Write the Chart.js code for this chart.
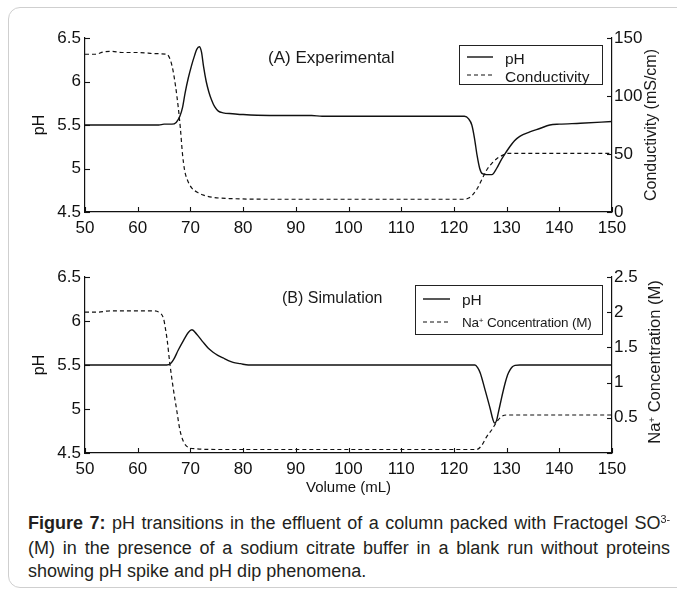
<!DOCTYPE html>
<html>
<head>
<meta charset="utf-8">
<script src="https://cdn.jsdelivr.net/npm/chart.js@4.4.1/dist/chart.umd.min.js"></script>
<style>
html,body{margin:0;padding:0;background:#fff;overflow:hidden;width:677px;height:590px;}
body{position:relative;font-family:"Liberation Sans",Arial,sans-serif;color:#1a1a1a;}
.frame{position:absolute;left:8px;top:7px;width:700px;height:581px;border:1.5px solid #cfcfcf;border-radius:12px;box-sizing:border-box;}
canvas{position:absolute;left:0;}
.t{position:absolute;white-space:nowrap;line-height:1;}
.rot{position:absolute;white-space:nowrap;line-height:1;transform:translate(-50%,-50%) rotate(-90deg);}
.legend{position:absolute;border:1.3px solid #222;box-sizing:border-box;background:#fff;}
.sw{position:absolute;overflow:visible;}
sup{font-size:0.6em;vertical-align:baseline;position:relative;top:-0.55em;}
.cap{position:absolute;left:28px;width:642px;font-size:18px;line-height:23px;color:#231f20;}
.cap div{text-align:justify;text-align-last:justify;white-space:nowrap;}
.cap div.last{text-align-last:left;}
</style>
</head>
<body>
<div class="frame"></div>

<canvas id="cA" width="677" height="240" style="top:0;width:677px;height:240px;"></canvas>
<canvas id="cB" width="677" height="262" style="top:240px;width:677px;height:262px;"></canvas>

<!-- panel annotations -->
<div class="t" style="left:268px;top:49px;font-size:17px;">(A) Experimental</div>
<div class="t" style="left:282px;top:290px;font-size:16px;">(B) Simulation</div>

<!-- legend A -->
<div class="legend" style="left:459px;top:45px;width:144px;height:40px;"></div>
<svg class="sw" style="left:467px;top:55px;" width="27" height="4"><line x1="0" y1="2" x2="26" y2="2" stroke="#111" stroke-width="1.4"/></svg>
<svg class="sw" style="left:467px;top:73px;" width="27" height="4"><line x1="0" y1="2" x2="26" y2="2" stroke="#111" stroke-width="1.2" stroke-dasharray="4 3"/></svg>
<div class="t" style="left:505px;top:51px;font-size:15.5px;">pH</div>
<div class="t" style="left:505px;top:69px;font-size:15.5px;">Conductivity</div>

<!-- legend B -->
<div class="legend" style="left:415px;top:285px;width:188px;height:50px;"></div>
<svg class="sw" style="left:423px;top:297px;" width="28" height="4"><line x1="0" y1="2" x2="27" y2="2" stroke="#111" stroke-width="1.4"/></svg>
<svg class="sw" style="left:423px;top:320px;" width="28" height="4"><line x1="0" y1="2" x2="27" y2="2" stroke="#111" stroke-width="1.2" stroke-dasharray="4 3"/></svg>
<div class="t" style="left:462px;top:292px;font-size:15.5px;">pH</div>
<div class="t" style="left:462px;top:316px;font-size:13.5px;letter-spacing:-0.2px;">Na<sup>+</sup> Concentration (M)</div>

<!-- right axis titles -->
<div class="rot" style="left:651px;top:125px;font-size:16px;">Conductivity (mS/cm)</div>
<div class="rot" style="left:654px;top:362px;font-size:16.5px;">Na<sup>+</sup> Concentration (M)</div>

<!-- caption -->
<div class="cap" style="top:512px;">
  <div><b>Figure 7:</b> pH transitions in the effluent of a column packed with Fractogel SO<sup>3-</sup></div>
  <div>(M) in the presence of a sodium citrate buffer in a blank run without proteins</div>
  <div class="last">showing pH spike and pH dip phenomena.</div>
</div>

<script>
// ---------------- data ----------------
// x-axis tick range (Volume, mL)
const volumeTicks = [50, 60, 70, 80, 90, 100, 110, 120, 130, 140, 150];

// (A) Experimental: pH
const volA_pH = [50, 55, 60, 64, 65, 66.5, 67.3, 68.0, 68.5, 69.0, 69.6, 70.2, 70.8, 71.2, 71.7, 72.1, 72.5, 73.0, 73.5, 74.0, 74.6, 75.3, 76.2, 78, 80, 85, 93, 95, 110, 113, 120, 122, 122.8, 123.4, 123.9, 124.4, 124.9, 125.4, 126.2, 127.2, 128.1, 128.8, 129.5, 130.6, 131.5, 132.5, 134.4, 136.3, 138.2, 140, 144, 150];
const pH_A    = [5.50, 5.50, 5.50, 5.50, 5.51, 5.51, 5.53, 5.60, 5.70, 5.87, 6.04, 6.18, 6.30, 6.37, 6.40, 6.34, 6.17, 6.00, 5.88, 5.79, 5.71, 5.66, 5.64, 5.63, 5.62, 5.61, 5.61, 5.60, 5.60, 5.60, 5.60, 5.60, 5.57, 5.50, 5.35, 5.15, 5.00, 4.94, 4.93, 4.93, 5.00, 5.08, 5.15, 5.25, 5.32, 5.37, 5.42, 5.46, 5.50, 5.51, 5.52, 5.54];

// (A) Experimental: conductivity (mS/cm)
const volA_cond = [50, 52, 53.5, 55, 57, 60, 62, 63, 65.5, 66.2, 66.7, 67.2, 67.7, 68.1, 68.5, 68.9, 69.4, 70.2, 71.3, 72.5, 74.5, 78, 85, 100, 122, 122.8, 123.6, 124.4, 125.3, 126.2, 127.2, 128.3, 129.3, 130.2, 132, 150];
const cond_A    = [136, 136, 138, 138.5, 137.5, 137.5, 137, 136.5, 136, 131, 122, 108, 90, 72, 50, 36, 28, 21, 17, 14.5, 12.5, 11.5, 11, 11, 11, 12, 15, 20, 28, 36, 42, 46.5, 49, 50.5, 50.5, 50.5];

// (B) Simulation: pH
const volB_pH = [50, 65.5, 66.3, 66.8, 67.7, 68.7, 69.6, 70.3, 71.2, 72.4, 73.4, 74.3, 75.2, 76.2, 77.2, 78.1, 79.5, 81, 124, 124.5, 125, 125.9, 126.9, 127.4, 127.7, 128.1, 128.4, 129.1, 129.7, 130.2, 130.6, 131.1, 131.6, 132.5, 150];
const pH_B    = [5.50, 5.50, 5.52, 5.56, 5.67, 5.78, 5.87, 5.90, 5.85, 5.76, 5.69, 5.645, 5.61, 5.58, 5.55, 5.53, 5.515, 5.50, 5.50, 5.47, 5.41, 5.22, 5.00, 4.88, 4.84, 4.87, 4.95, 5.14, 5.29, 5.39, 5.44, 5.48, 5.495, 5.50, 5.50];

// (B) Simulation: Na+ concentration (M)
const volB_na = [50, 52, 55, 63, 64, 64.9, 65.3, 65.6, 66.1, 66.8, 67.4, 68.0, 68.7, 69.6, 71, 75, 100, 124.3, 125.3, 126.2, 127.2, 128.1, 129.1, 130, 150];
const na_B    = [2.0, 2.0, 2.02, 2.02, 2.0, 1.91, 1.75, 1.60, 1.27, 0.89, 0.61, 0.33, 0.16, 0.08, 0.06, 0.05, 0.05, 0.05, 0.11, 0.23, 0.33, 0.44, 0.52, 0.54, 0.54];

// axis ranges / tick steps
const pHRange = [4.5, 6.5];
const condRange = [0, 150];
const naRange = [0, 2.5];

// ---------------- helpers ----------------
const pts = (xs, ys) => xs.map((x, i) => ({x, y: ys[i]}));
const FONT = '"Liberation Sans", Arial, sans-serif';
const INK = '#111';

const inwardTicks = {
  id: 'inwardTicks',
  afterDraw(chart) {
    const ctx = chart.ctx, a = chart.chartArea;
    ctx.save();
    ctx.strokeStyle = INK;
    ctx.lineWidth = 1.1;
    Object.values(chart.scales).forEach(s => {
      s.ticks.forEach((t, i) => {
        const p = Math.round(s.getPixelForTick(i)) + 0.5;
        ctx.beginPath();
        if (s.axis === 'x') { ctx.moveTo(p, a.bottom); ctx.lineTo(p, a.bottom - 5); }
        else if (s.position === 'left') { ctx.moveTo(a.left, p); ctx.lineTo(a.left + 5, p); }
        else { ctx.moveTo(a.right, p); ctx.lineTo(a.right - 5, p); }
        ctx.stroke();
      });
    });
    ctx.restore();
  }
};

function makeChart(id, d1, d2, rightRange, rightStep, hideZero, xHeight, topPad, xTitle) {
  return new Chart(document.getElementById(id), {
    type: 'line',
    data: {
      datasets: [
        { data: d1, yAxisID: 'y', borderColor: INK, borderWidth: 1.4, pointRadius: 0, cubicInterpolationMode: 'monotone', fill: false },
        { data: d2, yAxisID: 'y2', borderColor: INK, borderWidth: 1.2, borderDash: [4, 3], pointRadius: 0, cubicInterpolationMode: 'monotone', fill: false }
      ]
    },
    options: {
      responsive: false,
      maintainAspectRatio: false,
      devicePixelRatio: 1,
      animation: false,
      events: [],
      layout: { padding: { top: topPad, left: 0, right: 0, bottom: 0 } },
      plugins: { legend: { display: false }, tooltip: { enabled: false } },
      scales: {
        x: {
          type: 'linear', position: 'bottom',
          min: volumeTicks[0], max: volumeTicks[volumeTicks.length - 1],
          afterBuildTicks: s => { s.ticks = volumeTicks.map(v => ({value: v})); },
          grid: { display: false, drawTicks: false },
          border: { display: true, color: INK, width: 1.2 },
          ticks: { color: INK, font: { family: FONT, size: 17 }, padding: 6, maxRotation: 0, autoSkip: false, callback: v => String(v) },
          title: xTitle ? { display: true, text: xTitle, color: INK, font: { family: FONT, size: 15 }, padding: { top: 0, bottom: 5 } } : { display: false },
          afterFit: s => { s.height = xHeight; }
        },
        y: {
          type: 'linear', position: 'left',
          min: pHRange[0], max: pHRange[1],
          ticks: { stepSize: 0.5, color: INK, font: { family: FONT, size: 17 }, padding: 4, callback: v => String(v) },
          grid: { display: false, drawTicks: false },
          border: { display: true, color: INK, width: 1.2 },
          title: { display: true, text: 'pH', color: INK, font: { family: FONT, size: 16 }, padding: { top: 30, bottom: 0 } },
          afterFit: s => { s.width = 85; }
        },
        y2: {
          type: 'linear', position: 'right',
          min: rightRange[0], max: rightRange[1],
          ticks: { stepSize: rightStep, color: INK, font: { family: FONT, size: 17 }, padding: 2,
                   callback: v => (hideZero && v === 0) ? '' : String(v) },
          grid: { display: false, drawTicks: false },
          border: { display: true, color: INK, width: 1.2 },
          afterFit: s => { s.width = 65; }
        }
      }
    },
    plugins: [inwardTicks]
  });
}

makeChart('cA', pts(volA_pH, pH_A), pts(volA_cond, cond_A), condRange, 50, false, 28, 38, null);
makeChart('cB', pts(volB_pH, pH_B), pts(volB_na, na_B), naRange, 0.5, true, 49, 37, 'Volume (mL)');
</script>
</body>
</html>
